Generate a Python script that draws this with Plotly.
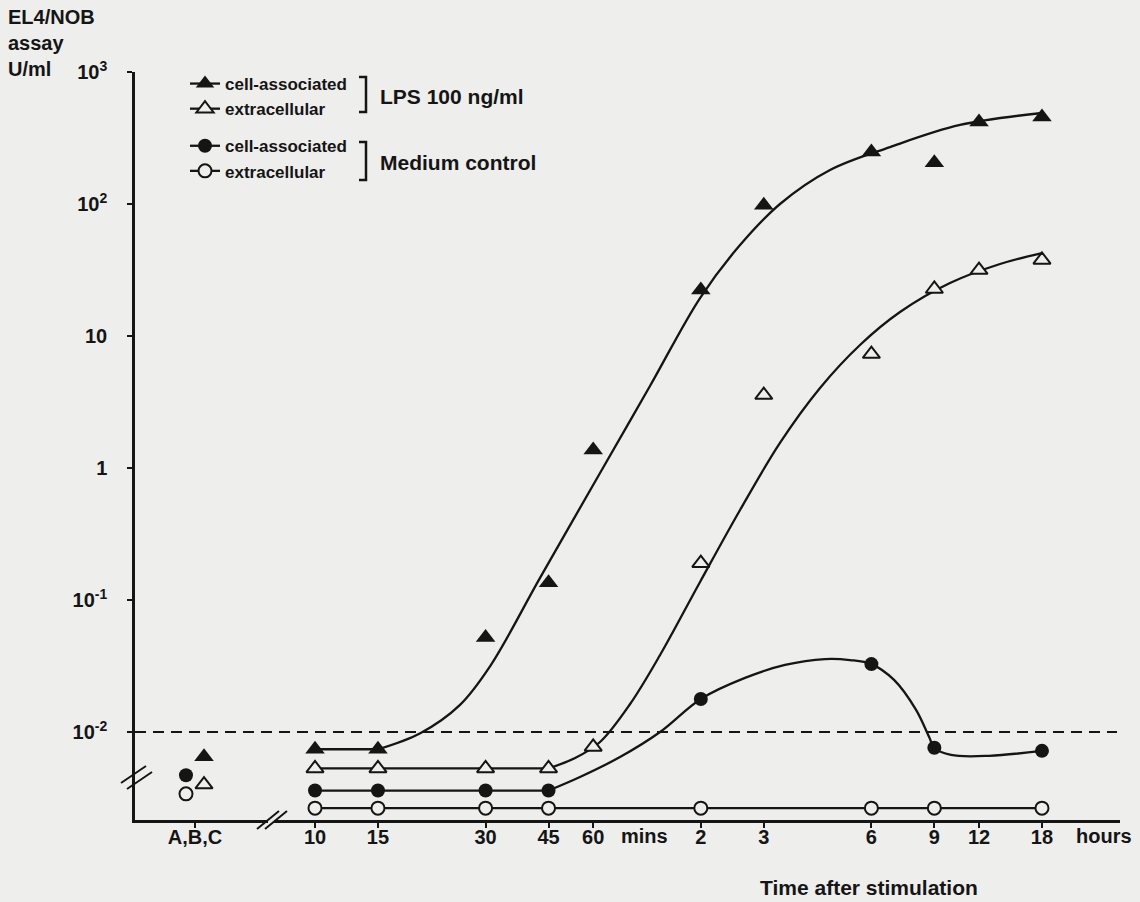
import plotly.graph_objects as go

INK = "#151515"
PAPER = "#eeeeec"
FONT = "Liberation Sans, Arial, Helvetica, sans-serif"

# Sampling times after stimulation (minutes) and their axis labels
times_min = [10, 15, 30, 45, 60, 120, 180, 360, 540, 720, 1080]
time_ticks = [10, 15, 30, 45, 60, 120, 180, 360, 540, 720, 1080]
time_tick_text = ["10", "15", "30", "45", "60", "2", "3", "6", "9", "12", "18"]

# EL4/NOB assay activity, U/ml
lps_cell = [0.0074, 0.0074, 0.052, 0.135, 1.37, 22.3, 98, 248, 205, 418, 456]
lps_extra = [0.0053, 0.0053, 0.0053, 0.0053, 0.0077, 0.19, 3.57, 7.3, 22.7, 31.6, 37.7]
med_cell = [0.0036, 0.0036, 0.0036, 0.0036, None, 0.0178, None, 0.0327, 0.0076, None, 0.0072]
med_extra = [0.00265, 0.00265, 0.00265, 0.00265, None, 0.00265, None, 0.00265, 0.00265, None, 0.00265]

# Number of leading time points that sit on a flat baseline before the curve takes off
lps_cell_flat = 2
lps_extra_flat = 4
med_cell_flat = 4

# Unstimulated controls A, B, C
control_label = ["A,B,C"]
control_lps_cell = [0.0065]
control_lps_extra = [0.0040]
control_med_cell = [0.0047]
control_med_extra = [0.0034]

# Smooth curves drawn through each time course (knots)
lps_cell_fit_t = [15, 19.7, 25.4, 30.9, 42.6, 62.7, 86.5, 119.4, 154.5, 199.8, 275.8, 405.9, 637.3, 1080]
lps_cell_fit_v = [0.0074, 0.0098, 0.016, 0.0316, 0.147, 0.917, 4.18, 19.4, 48.9, 100, 181, 270, 397, 489]
lps_extra_fit_t = [45, 53.4, 62.7, 76.1, 92.3, 119.4, 154.5, 199.8, 258.6, 334.5, 432.9, 597.3, 824.4, 1080]
lps_extra_fit_v = [0.0053, 0.00635, 0.0084, 0.0163, 0.0383, 0.137, 0.481, 1.55, 4.04, 8.55, 15.2, 25.2, 35.1, 42.5]
med_cell_fit_t = [45, 55.1, 71.3, 92.3, 120, 159.5, 206.4, 267.1, 313.7, 360, 416.6, 480, 521.8, 540, 601.2, 768, 1080]
med_cell_fit_v = [0.0036, 0.00456, 0.00646, 0.0100, 0.0178, 0.0257, 0.0322, 0.0357, 0.0351, 0.0327, 0.0248,
                  0.0147, 0.0092, 0.0076, 0.0067, 0.0066, 0.0072]

detection_limit = 0.01
y_ticks = [1000, 100, 10, 1, 0.1, 0.01]
y_tick_text = ["10<sup>3</sup>", "10<sup>2</sup>", "10", "1", "10<sup>-1</sup>", "10<sup>-2</sup>"]

legend_names = ["cell-associated", "extracellular", "cell-associated", "extracellular"]
legend_groups = ["lps", "lps", "medium", "medium"]

marker_styles = [
    dict(symbol="triangle-up", size=17, color=INK, line=dict(color=INK, width=0)),
    dict(symbol="triangle-up", size=15, color=PAPER, line=dict(color=INK, width=2)),
    dict(symbol="circle", size=14, color=INK, line=dict(color=INK, width=0)),
    dict(symbol="circle", size=13, color=PAPER, line=dict(color=INK, width=2)),
]
series = [lps_cell, lps_extra, med_cell, med_extra]
controls = [control_lps_cell, control_lps_extra, control_med_cell, control_med_extra]
control_groups = ["triangles", "triangles", "circles", "circles"]
fits = [(lps_cell_fit_t, lps_cell_fit_v), (lps_extra_fit_t, lps_extra_fit_v), (med_cell_fit_t, med_cell_fit_v)]
baselines = [(lps_cell, lps_cell_flat), (lps_extra, lps_extra_flat), (med_cell, med_cell_flat)]

curve = dict(color=INK, width=2.3)

fig = go.Figure()

# flat baselines joining the early points
for vals, n in baselines:
    fig.add_trace(go.Scatter(x=times_min[:n], y=vals[:n], xaxis="x2", yaxis="y", mode="lines",
                             line=curve, offsetgroup="time", showlegend=False, hoverinfo="skip"))

# fitted curves (under the markers)
for t, v in fits:
    fig.add_trace(go.Scatter(x=t, y=v, xaxis="x2", yaxis="y", mode="lines",
                             line=dict(curve, shape="spline", smoothing=1.0),
                             offsetgroup="time", showlegend=False, hoverinfo="skip"))

# medium-control extracellular values joined directly
fig.add_trace(go.Scatter(x=times_min, y=med_extra, xaxis="x2", yaxis="y", mode="lines",
                         line=curve, connectgaps=True, offsetgroup="time",
                         showlegend=False, hoverinfo="skip"))

# measured time points
for vals, style in zip(series, marker_styles):
    fig.add_trace(go.Scatter(x=times_min, y=vals, xaxis="x2", yaxis="y", mode="markers",
                             marker=style, offsetgroup="time", showlegend=False))

# controls: circles first so they sit to the left of the triangles
for idx in [2, 3, 0, 1]:
    fig.add_trace(go.Scatter(x=control_label, y=controls[idx], xaxis="x", yaxis="y", mode="markers",
                             marker=marker_styles[idx], offsetgroup=control_groups[idx],
                             showlegend=False))

# legend keys
for name, grp, style in zip(legend_names, legend_groups, marker_styles):
    fig.add_trace(go.Scatter(x=[None], y=[None], xaxis="x2", yaxis="y", mode="lines+markers",
                             name=name, legendgroup=grp, marker=style, line=curve,
                             offsetgroup="time"))

axis_common = dict(showline=True, linecolor=INK, linewidth=2.5, ticks="outside", ticklen=5,
                   tickwidth=2, tickcolor=INK, showgrid=False, zeroline=False, fixedrange=True,
                   tickfont=dict(family=FONT, size=20, color=INK, weight="bold"))


def px_x(p):
    return (p - 135) / 985


def px_y(p):
    return (820 - p) / 748


shapes = [
    # detection limit
    dict(type="line", xref="paper", yref="y", x0=0, x1=px_x(1117), y0=detection_limit, y1=detection_limit,
         line=dict(color=INK, width=2.2, dash="11px,7px")),
]

# axis break marks
for (xa, ya, xb, yb) in [(121, 783, 146, 766), (127, 789, 152, 772), (257, 829, 279, 811), (265, 829, 287, 811)]:
    shapes.append(dict(type="line", xref="paper", yref="paper", x0=px_x(xa), y0=px_y(ya),
                       x1=px_x(xb), y1=px_y(yb), line=dict(color=INK, width=2)))

# legend brackets
for top, bot in [(77, 112), (142, 180)]:
    path = "M{a},{t} L{b},{t} L{b},{u} L{a},{u}".format(a=px_x(359), b=px_x(366), t=px_y(top), u=px_y(bot))
    shapes.append(dict(type="path", xref="paper", yref="paper", path=path, line=dict(color=INK, width=2.5)))

bold = dict(family=FONT, color=INK, weight="bold")
annotations = [
    dict(text="EL4/NOB<br>assay<br>U/ml", xref="paper", yref="paper", x=px_x(6), y=px_y(4),
         xanchor="left", yanchor="top", align="left", showarrow=False, font=dict(bold, size=20)),
    dict(text="LPS 100 ng/ml", xref="paper", yref="paper", x=px_x(378), y=px_y(96),
         xanchor="left", yanchor="middle", showarrow=False, font=dict(bold, size=21)),
    dict(text="Medium control", xref="paper", yref="paper", x=px_x(378), y=px_y(162),
         xanchor="left", yanchor="middle", showarrow=False, font=dict(bold, size=21)),
    dict(text="mins", xref="paper", yref="paper", x=px_x(644), y=px_y(836),
         xanchor="center", yanchor="middle", showarrow=False, font=dict(bold, size=20)),
    dict(text="hours", xref="paper", yref="paper", x=px_x(1104), y=px_y(836),
         xanchor="center", yanchor="middle", showarrow=False, font=dict(bold, size=20)),
    dict(text="Time after stimulation", xref="paper", yref="paper", x=px_x(869), y=px_y(887),
         xanchor="center", yanchor="middle", showarrow=False, font=dict(bold, size=21)),
]

fig.update_layout(
    width=1140, height=902,
    margin=dict(l=135, r=20, t=72, b=82),
    paper_bgcolor=PAPER, plot_bgcolor=PAPER,
    font=dict(family=FONT, size=19, color=INK, weight="bold"),
    scattermode="group", scattergap=0.729,
    hovermode=False,
    xaxis=dict(axis_common, domain=[0, px_x(268)], type="category", range=[-0.4511, 0.5489], anchor="y",
               ticklabelstandoff=-8),
    xaxis2=dict(axis_common, domain=[px_x(274), 1], type="log", range=[0.8853, 3.2517], anchor="y",
                tickmode="array", tickvals=time_ticks, ticktext=time_tick_text, ticklabelstandoff=-8),
    yaxis=dict(axis_common, domain=[0, 1], type="log", range=[-2.6667, 3], anchor="x",
               tickmode="array", tickvals=y_ticks, ticktext=y_tick_text, ticklabelstandoff=16),
    legend=dict(x=px_x(185), y=1.008, xanchor="left", yanchor="top", bgcolor="rgba(0,0,0,0)",
                font=dict(family=FONT, size=17, color=INK, weight="bold"), tracegroupgap=12,
                itemsizing="trace"),
    shapes=shapes,
    annotations=annotations,
)

fig.write_html("out.html")
